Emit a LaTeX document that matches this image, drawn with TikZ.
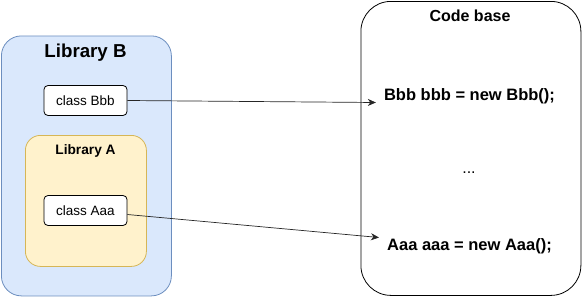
\documentclass[tikz,border=0pt]{standalone}
\usepackage{fontspec}
\setmainfont{Liberation Sans}
\usetikzlibrary{arrows.meta}
\definecolor{libbfill}{HTML}{DAE8FC}
\definecolor{libbdraw}{HTML}{6C8EBF}
\definecolor{libafill}{HTML}{FFF2CC}
\definecolor{libadraw}{HTML}{D6B656}

\begin{document}
\begin{tikzpicture}[x=1pt, y=-1pt,
    group/.style={draw, line width=0.8pt, anchor=north west, inner sep=0pt},
    clsbox/.style={draw=black, fill=white, rounded corners=4pt, line width=0.8pt,
                   minimum width=83pt, minimum height=30pt, inner sep=0pt,
                   font=\fontsize{13.5}{16}\selectfont},
    title/.style={font=\bfseries},
    codeline/.style={font=\fontsize{16.5}{20}\selectfont\bfseries, inner sep=8pt},
    link/.style={-{Stealth[length=8pt, width=7pt, inset=2.5pt]}, line width=0.7pt,
                 draw=black!85},
  ]
  \useasboundingbox (0,0) rectangle (582,297);
  % groups
  \node[group, fill=libbfill, draw=libbdraw, rounded corners=20pt,
        minimum width=170pt, minimum height=260pt] (libb) at (1,35.5) {};
  \node[group, fill=libafill, draw=libadraw, rounded corners=15pt,
        minimum width=121pt, minimum height=131pt] (liba) at (25,135) {};
  \node[group, fill=white, draw=black, rounded corners=30pt,
        minimum width=220pt, minimum height=294pt] (code) at (360.5,1) {};
  % titles
  \node[title, font=\fontsize{18.7}{22}\selectfont\bfseries] (libbtitle) at (85.5,52.5) {Library B};
  \node[title, font=\fontsize{13.7}{16}\selectfont\bfseries] (libatitle) at (85.5,150.5) {Library A};
  \node[title, font=\fontsize{16}{19}\selectfont\bfseries] (codetitle) at (470,16) {Code base};
  % classes
  \node[clsbox] (bbb) at (85.5,100.5) {class Bbb};
  \node[clsbox] (aaa) at (85.5,210.5) {class Aaa};
  % code lines
  \node[codeline] (newbbb) at (469.5,96.5) {Bbb bbb = new Bbb();};
  \node[codeline, font=\fontsize{16}{20}\selectfont] (dots) at (469,173) {...};
  \node[codeline] (newaaa) at (469.5,246.5) {Aaa aaa = new Aaa();};
  % usages
  \draw[link] (bbb.east) -- ([yshift=-6pt]newbbb.west);
  \draw[link] ([yshift=-4pt]aaa.east) -- ([yshift=9pt]newaaa.west);
\end{tikzpicture}
\end{document}
